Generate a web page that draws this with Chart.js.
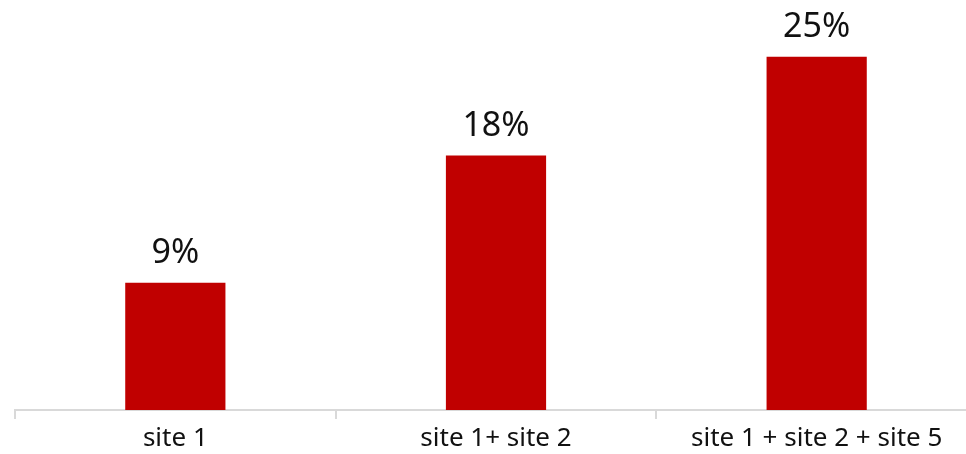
<!DOCTYPE html>
<html>
<head>
<meta charset="utf-8">
<script src="https://cdn.jsdelivr.net/npm/chart.js@4"></script>
<style>
  html, body { margin: 0; padding: 0; background: #fff; overflow: hidden; }
  #wrap { width: 977px; height: 454px; }
</style>
</head>
<body>
<div id="wrap"><canvas id="sitesChart"></canvas></div>
<script>
const categories = ['site 1', 'site 1+ site 2', 'site 1 + site 2 + site 5'];
const values = [9, 18, 25];
const valueLabels = ['9%', '18%', '25%'];

// etiketler barların üstüne
const barLabels = {
  id: 'barLabels',
  afterDatasetsDraw(chart) {
    const ctx = chart.ctx;
    ctx.save();
    ctx.font = '34px "Noto Sans", sans-serif';
    ctx.fillStyle = '#111';
    ctx.textAlign = 'center';
    ctx.textBaseline = 'bottom';
    chart.getDatasetMeta(0).data.forEach((bar, i) => {
      ctx.fillText(valueLabels[i], bar.x, bar.y - 12);
    });
    ctx.restore();
  }
};

new Chart(document.getElementById('sitesChart'), {
  type: 'bar',
  data: {
    labels: categories,
    datasets: [{
      data: values,
      backgroundColor: '#C00000',
      borderWidth: 0,
      barPercentage: 0.3125,
      categoryPercentage: 1
    }]
  },
  options: {
    responsive: true,
    maintainAspectRatio: false,
    animation: false,
    layout: { padding: { left: 15, right: 0, top: 10, bottom: 0 } },
    plugins: { legend: { display: false }, tooltip: { enabled: false } },
    scales: {
      x: {
        afterFit: scale => { scale.height = 44; },
        grid: { display: true, drawOnChartArea: false, tickLength: 9, color: '#d9d9d9', lineWidth: 2 },
        border: { display: true, color: '#d9d9d9', width: 2 },
        ticks: { color: '#111', font: { size: 26, family: '"Noto Sans", sans-serif' }, padding: 4, maxRotation: 0 }
      },
      y: {
        display: false,
        min: 0,
        max: 28.3
      }
    }
  },
  plugins: [barLabels]
});
</script>
</body>
</html>
